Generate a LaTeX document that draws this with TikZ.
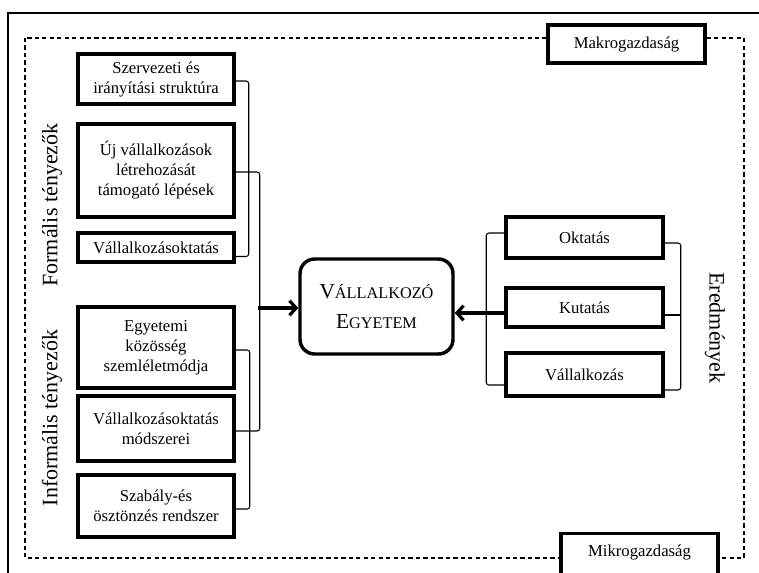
\documentclass[tikz,border=0pt]{standalone}
\usepackage{fontspec}
\setmainfont{Liberation Serif}
\usetikzlibrary{arrows.meta,calc}
% small capitals built from two sizes of capitals
\newcommand{\mysc}[2]{{\fontsize{16}{22}\selectfont #1}{\fontsize{12.2}{22}\selectfont #2}}
\begin{document}
\begin{tikzpicture}[x=0.75pt,y=-0.75pt,
  box/.style={draw,line width=2.6pt,fill=white,align=center,inner sep=0pt,
    font=\fontsize{12.5}{15}\selectfont},
  lbox/.style={box,minimum width=117pt},
  rbox/.style={box,minimum width=117.75pt},
  brk/.style={line width=0.8pt,rounded corners=2pt},
  arr/.style={line width=2.4pt,-{Straight Barb[length=5pt,width=11pt]}},
  side/.style={font=\fontsize{16.5}{20}\selectfont},
  frame/.style={dash pattern=on 3.2pt off 2.4pt,line width=0.8pt}]
\clip (0,0) rectangle (759,572);
\fill[white] (0,0) rectangle (759,572);

% outer frame and dashed economy boundary
\draw[line width=1.1pt] (790,13) -- (8,13) -- (8,600);
\draw[frame] (25,38) rectangle (744,558);

% levels of the economy
\node[rbox,minimum height=28.5pt] (makro) at (626.5,44) {Makrogazdaság};
\node[draw,line width=2.6pt,fill=white,inner sep=0pt,minimum width=117.75pt,
  text height=16.9pt,text depth=30pt,anchor=north,
  font=\fontsize{12.5}{15}\selectfont] (mikro) at (639.5,532) {Mikrogazdaság};

% formal factors
\node[lbox,minimum height=37.5pt] (b1) at (156,79) {Szervezeti és\\irányítási struktúra};
\node[lbox,minimum height=69.75pt] (b2) at (156,170.5) {Új vállalkozások\\létrehozását\\támogató lépések};
\node[lbox,minimum height=21.75pt] (b3) at (156,247.5) {Vállalkozásoktatás};

% informal factors
\node[lbox,minimum height=60.75pt] (b4) at (156,347.5) {Egyetemi\\közösség\\szemléletmódja};
\node[lbox,minimum height=48.75pt] (b5) at (156,428.5) {Vállalkozásoktatás\\módszerei};
\node[lbox,minimum height=46.5pt] (b6) at (156,506) {Szabály-és\\ösztönzés rendszer};

\node[side,rotate=90] (formal) at (52,205) {Formális tényezők};
\node[side,rotate=90] (informal) at (52,418) {Informális tényezők};

% the entrepreneurial university
\node[draw,line width=2.6pt,rounded corners=11pt,fill=white,inner sep=0pt,
  minimum width=114.75pt,minimum height=71.25pt,align=center,
  font=\fontsize{16}{22}\selectfont] (ve) at (376.5,306.5)
  {\mysc{V}{ÁLLALKOZÓ}\\\mysc{E}{GYETEM}};

% results
\node[rbox,minimum height=30.75pt] (okt) at (584.5,237.5) {Oktatás};
\node[rbox,minimum height=29.25pt] (kut) at (584.5,307.5) {Kutatás};
\node[rbox,minimum height=32.25pt] (vall) at (584.5,374.5) {Vállalkozás};
\node[side,rotate=-90] (ered) at (715,328) {Eredmények};

% brackets on the left
\draw[brk] ($(b1.east)+(0,2)$) -- ++(13,0) |- ($(b3.east)+(0,9)$);
\draw[brk] ($(b2.east)+(0,1.5)$) -- ++(24,0) |- ($(b5.east)+(0,2.5)$);
\draw[brk] ($(b4.east)+(0,2.5)$) -- ++(14,0) |- ($(b6.east)+(0,3)$);
\coordinate (lj) at (258,308);
\draw[arr] (lj) -- (lj -| ve.west);

% brackets on the right
\draw[brk] ($(okt.west)+(0,-4.5)$) -- ++(-18,0) |- ($(vall.west)+(0,10.5)$);
\draw[brk] ($(okt.east)+(0,5.5)$) -- ++(16,0) |- ($(vall.east)+(0,15.5)$);
\draw[brk] ($(kut.east)+(0,7.5)$) -- ++(16,0);
\coordinate (rj) at ($(kut.west)+(0,5.5)$);
\draw[arr] (rj) -- (rj -| ve.east);
\end{tikzpicture}
\end{document}
